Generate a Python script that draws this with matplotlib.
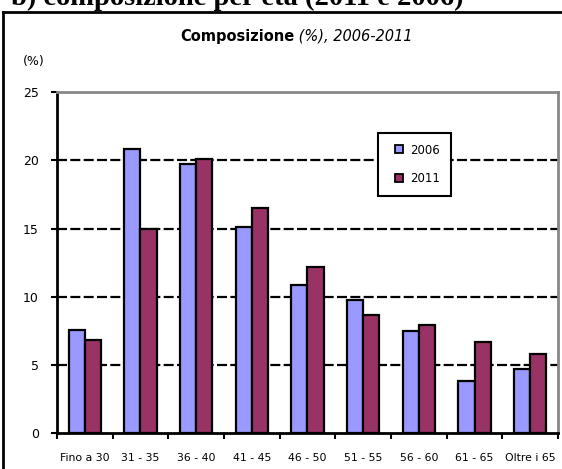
import matplotlib.pyplot as plt
import numpy as np
from matplotlib.lines import Line2D

# data
categories = ['Fino a 30', '31 - 35', '36 - 40', '41 - 45', '46 - 50',
              '51 - 55', '56 - 60', '61 - 65', 'Oltre i 65']
v2006 = [7.6, 20.8, 19.7, 15.1, 10.9, 9.8, 7.5, 3.8, 4.7]
v2011 = [6.8, 15.0, 20.1, 16.5, 12.2, 8.7, 7.9, 6.7, 5.8]
yticks = [0, 5, 10, 15, 20, 25]
series = ['2006', '2011']
colors = ['#9999FF', '#993366']

plt.rcParams['font.family'] = ['DejaVu Sans']

fig = plt.figure(figsize=(5.62, 4.69), dpi=100)
ax = fig.add_axes([0.1014, 0.0761, 0.8915, 0.7277])

x = np.arange(len(categories))
w = 0.29
ax.bar(x - w / 2, v2006, w, color=colors[0], edgecolor='black', linewidth=1.6,
       zorder=3)
ax.bar(x + w / 2, v2011, w, color=colors[1], edgecolor='black', linewidth=1.6,
       zorder=3)

ax.set_xlim(-0.5, len(categories) - 0.5)
ax.set_ylim(0, 25)

# dashed black gridlines
for yv in yticks[1:-1]:
    ax.axhline(yv, color='black', linewidth=1.6, linestyle=(0, (4.5, 1.5)), zorder=1)

ax.spines['top'].set_color('#888888')
ax.spines['top'].set_linewidth(2)
ax.spines['right'].set_color('#888888')
ax.spines['right'].set_linewidth(2)
ax.spines['left'].set_linewidth(2)
ax.spines['bottom'].set_linewidth(2)

ax.set_yticks(yticks)
ax.set_yticklabels([str(t) for t in yticks], fontsize=9)
ax.set_xticks(x)
ax.set_xticklabels(categories, fontsize=7.8)
ax.set_xticks(np.arange(len(categories) + 1) - 0.5, minor=True)
ax.tick_params(axis='x', which='major', length=0, pad=14)
ax.tick_params(axis='x', which='minor', length=4, width=1.5, direction='out')
ax.tick_params(axis='y', length=4, width=1.5, direction='out', pad=9)

handles = [Line2D([], [], marker='s', markersize=5.5, markerfacecolor=c,
                  markeredgecolor='black', markeredgewidth=1.3, linestyle='none')
           for c in colors]
leg = ax.legend(handles, series, loc='upper left', bbox_to_anchor=(0.641, 0.88),
                fontsize=8.5, frameon=True, fancybox=False, edgecolor='black',
                framealpha=1, handlelength=1.8, handletextpad=0.0,
                labelspacing=1.3, borderpad=0.9, borderaxespad=0)
leg.get_frame().set_linewidth(1.5)
leg.set_zorder(5)

# titles
fig.text(0.524, 0.913, 'Composizione', fontsize=10.5, fontweight='bold',
         ha='right', va='baseline')
fig.text(0.524, 0.913, ' (%), 2006-2011', fontsize=10.5, style='italic',
         ha='left', va='baseline')
fig.text(0.041, 0.862, '(%)', fontsize=9, ha='left', va='baseline')

fig.text(0.02, 0.989, 'b) composizione per età (2011 e 2006)',
         family='Liberation Serif', fontsize=20.5, fontweight='bold',
         ha='left', va='baseline')

# outer frame
fig.add_artist(Line2D([0.006, 1.0], [0.975, 0.975], color='black', linewidth=2,
                      transform=fig.transFigure))
fig.add_artist(Line2D([0.006, 0.006], [0.0, 0.975], color='black', linewidth=2,
                      transform=fig.transFigure))

fig.savefig('out.png', dpi=100)
